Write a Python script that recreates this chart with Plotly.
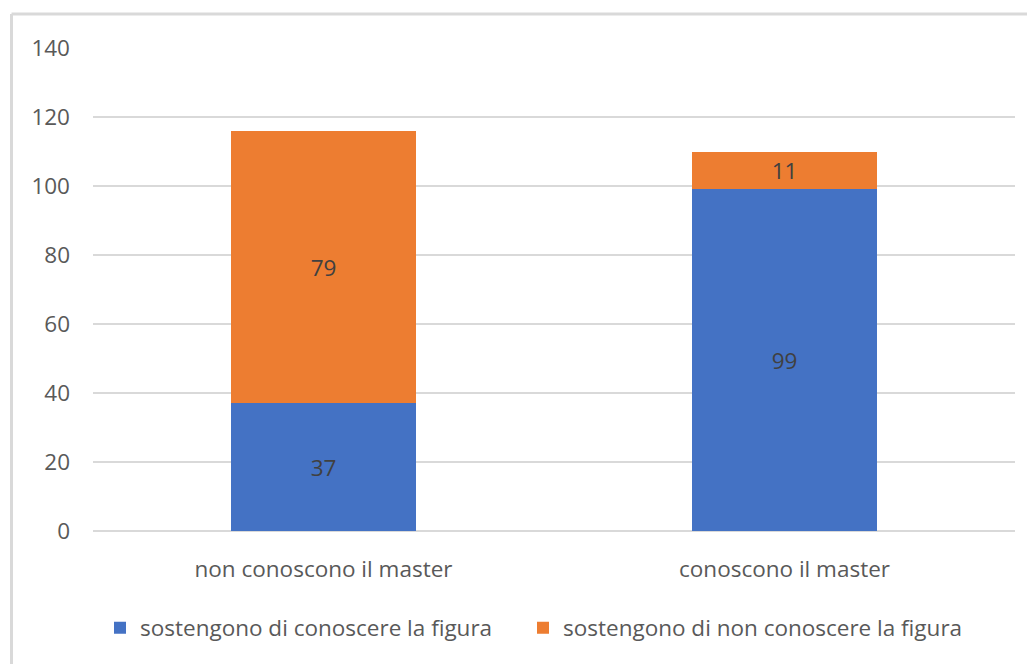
import plotly.graph_objects as go

categories = ["non conoscono il master", "conoscono il master"]
series_names = ["sostengono di conoscere la figura", "sostengono di non conoscere la figura"]
conoscere = [37, 99]
non_conoscere = [79, 11]
y_ticks = [0, 20, 40, 60, 80, 100, 120, 140]

W, H = 1035, 664
OFF = 8  # page body margin offset
ml, mt = 93 - OFF, 48 - OFF
pw, ph = 922, 483
mr = W - ml - pw
mb = H - mt - ph

def px_x(px):
    # px is target page coordinate
    return (px - OFF - ml) / pw

def px_y(py):
    return (mt + ph - (py - OFF)) / ph

FONT = "Open Sans"
FS = 22.5
colors = ["#4472C4", "#ED7D31"]
legend_ids = ["legend", "legend2"]

fig = go.Figure()
for name, vals, col, lg in zip(series_names, [conoscere, non_conoscere], colors, legend_ids):
    fig.add_trace(go.Bar(
        x=categories, y=vals, name=name, marker=dict(color=col, line=dict(width=0)),
        width=0.4, text=[str(v) for v in vals], textposition="inside",
        insidetextanchor="middle", textangle=0,
        textfont=dict(family=FONT, size=FS, color="#404040"),
        hoverinfo="skip", legend=lg,
    ))

legend_style = dict(orientation="h", xanchor="left", y=px_y(628), yanchor="middle",
                    font=dict(family=FONT, size=FS, color="#595959"),
                    itemwidth=30, bgcolor="rgba(0,0,0,0)")

fig.update_layout(
    width=W, height=H, barmode="stack",
    margin=dict(l=ml, r=mr, t=mt, b=mb),
    paper_bgcolor="white", plot_bgcolor="white",
    font=dict(family=FONT, size=FS, color="#595959"),
    showlegend=True,
    legend=dict(x=px_x(100), **legend_style),
    legend2=dict(x=px_x(523), **legend_style),
    uniformtext=dict(mode=False),
)
fig.update_xaxes(range=[-0.5, 1.5], showgrid=False, showline=False, zeroline=False,
                 ticks="", ticklabelstandoff=22, tickfont=dict(family=FONT, size=FS, color="#595959"))
fig.update_yaxes(range=[0, 140], tickvals=y_ticks, showgrid=True, gridcolor="#d9d9d9", gridwidth=2,
                 zeroline=True, zerolinecolor="#d9d9d9", zerolinewidth=2, showline=False,
                 ticks="", ticklabelstandoff=22, tickfont=dict(family=FONT, size=FS, color="#595959"))

# chart border (cropped at right and bottom)
bx, by = px_x(11.5), px_y(14)
fig.add_shape(type="line", xref="paper", yref="paper", x0=bx, x1=bx, y0=by, y1=px_y(700),
              line=dict(color="#d9d9d9", width=3))
fig.add_shape(type="line", xref="paper", yref="paper", x0=bx, x1=px_x(1100), y0=by, y1=by,
              line=dict(color="#d9d9d9", width=3))

fig.write_html("out.html")
